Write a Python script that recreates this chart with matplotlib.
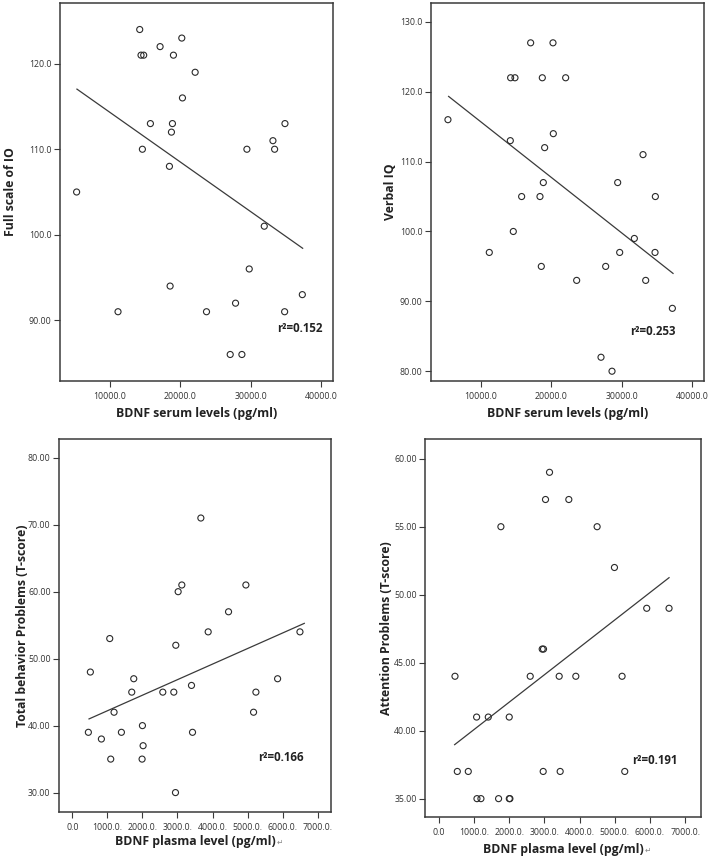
import matplotlib
matplotlib.use("Agg")
import matplotlib.pyplot as plt

plt.rcParams['font.family'] = ['Open Sans', 'DejaVu Sans']

# ---------------- Data ----------------
# Panel A: Full scale IQ vs BDNF serum
serum_a = [5308, 11185, 14265, 14450, 14830, 17156, 20237, 19052, 22133, 20332,
           15782, 18910, 18768, 14645, 18483, 18578, 23744, 27109, 28768, 27867,
           29810, 29479, 31943, 33175, 33412, 34882, 34834, 37346]
fsiq = [105, 91, 124, 121, 121, 122, 123, 121, 119, 116,
        113, 113, 112, 110, 108, 94, 91, 86, 86, 92,
        96, 110, 101, 111, 110, 113, 91, 93]
fit_a_x = [5355, 37393]
fit_a_y = [117.03, 98.42]

# Panel B: Verbal IQ vs BDNF serum
serum_b = [5308, 11185, 14218, 14834, 14171, 14597, 15782, 17062, 20237, 18720,
           22038, 20284, 19052, 18863, 18389, 18578, 23602, 27062, 28626, 27725,
           29431, 29716, 31801, 33033, 33412, 34787, 34739, 37204]
viq = [116, 97, 122, 122, 113, 100, 105, 127, 127, 122,
       122, 114, 112, 107, 105, 95, 93, 82, 80, 95,
       107, 97, 99, 111, 93, 105, 97, 89]
fit_b_x = [5403, 37299]
fit_b_y = [119.33, 94.0]

# Panel C: Total behavior problems vs BDNF plasma
plasma_c = [457, 514, 829, 1067, 1095, 1190, 1400, 1695, 1752, 2000,
            2019, 1990, 2581, 2895, 2952, 3019, 3124, 2943, 3400, 3429,
            3667, 3876, 4457, 4952, 5171, 5238, 5857, 6495]
tbp = [39, 48, 38, 53, 35, 42, 39, 45, 47, 40,
       37, 35, 45, 45, 52, 60, 61, 30, 46, 39,
       71, 54, 57, 61, 42, 45, 47, 54]
fit_c_x = [476, 6619]
fit_c_y = [41.0, 55.27]

# Panel D: Attention problems vs BDNF plasma
plasma_d = [455, 521, 833, 1080, 1193, 1070, 1402, 1695, 1761, 1998,
            2000, 2017, 2595, 2936, 2973, 2964, 3030, 3144, 3419, 3447,
            3693, 3892, 4498, 4991, 5208, 5284, 5909, 6544]
attn = [44, 37, 37, 35, 35, 41, 41, 35, 55, 41,
        35, 35, 44, 46, 46, 37, 57, 59, 44, 37,
        57, 44, 55, 52, 44, 37, 49, 49]
fit_d_x = [445, 6544]
fit_d_y = [38.97, 51.25]

serum_ticks = [10000, 20000, 30000, 40000]
serum_ticklabels = ["10000.0", "20000.0", "30000.0", "40000.0"]
plasma_ticks = [0, 1000, 2000, 3000, 4000, 5000, 6000, 7000]
plasma_ticklabels = ["0.0", "1000.0.", "2000.0.", "3000.0.", "4000.0.",
                     "5000.0.", "6000.0.", "7000.0."]
fsiq_ticks = [90, 100, 110, 120]
fsiq_ticklabels = ["90.00", "100.0", "110.0", "120.0"]
viq_ticks = [80, 90, 100, 110, 120, 130]
viq_ticklabels = ["80.00", "90.00", "100.0", "110.0", "120.0", "130.0"]
tbp_ticks = [30, 40, 50, 60, 70, 80]
tbp_ticklabels = ["30.00", "40.00", "50.00", "60.00", "70.00", "80.00"]
attn_ticks = [35, 40, 45, 50, 55, 60]
attn_ticklabels = ["35.00", "40.00", "45.00", "50.00", "55.00", "60.00"]

# ---------------- Figure ----------------
W, H = 711, 858
fig = plt.figure(figsize=(W / 100, H / 100), dpi=100)
fig.patch.set_facecolor("white")


def make_axes(left, right, top, bottom):
    return fig.add_axes([left / W, 1 - bottom / H, (right - left) / W, (bottom - top) / H])


panels = [
    dict(box=(60, 333, 3, 381), x=serum_a, y=fsiq, fx=fit_a_x, fy=fit_a_y,
         xlim=(2950, 41700), ylim=(82.9, 127.1),
         xt=serum_ticks, xtl=serum_ticklabels, yt=fsiq_ticks, ytl=fsiq_ticklabels,
         xlabel="BDNF serum levels (pg/ml)", ylabel="Full scale of IO",
         r2="r²=0.152", r2pos=(33839, 89.0), ylc=-0.183, xlc=-0.085),
    dict(box=(431, 704, 3, 381), x=serum_b, y=viq, fx=fit_b_x, fy=fit_b_y,
         xlim=(2900, 41700), ylim=(78.6, 132.7),
         xt=serum_ticks, xtl=serum_ticklabels, yt=viq_ticks, ytl=viq_ticklabels,
         xlabel="BDNF serum levels (pg/ml)", ylabel="Verbal IQ",
         r2="r²=0.253", r2pos=(31185, 85.7), ylc=-0.15, xlc=-0.085),
    dict(box=(59, 331, 439, 812), x=plasma_c, y=tbp, fx=fit_c_x, fy=fit_c_y,
         xlim=(-381, 7381), ylim=(27.1, 82.8),
         xt=plasma_ticks, xtl=plasma_ticklabels, yt=tbp_ticks, ytl=tbp_ticklabels,
         xlabel="BDNF plasma level (pg/ml)", ylabel="Total behavior Problems (T-score)",
         r2="r²=0.166", r2pos=(5314, 35.3), ylc=-0.133, xlc=-0.08, arrow=True),
    dict(box=(425, 701, 439, 817), x=plasma_d, y=attn, fx=fit_d_x, fy=fit_d_y,
         xlim=(-398, 7453), ylim=(33.65, 61.45),
         xt=plasma_ticks, xtl=plasma_ticklabels, yt=attn_ticks, ytl=attn_ticklabels,
         xlabel="BDNF plasma level (pg/ml)", ylabel="Attention Problems (T-score)",
         r2="r²=0.191", r2pos=(5483, 37.8), ylc=-0.138, xlc=-0.085, arrow=True),
]

edge = "#3a3a3a"
for p in panels:
    ax = make_axes(*p["box"])
    ax.scatter(p["x"], p["y"], s=19, marker="o", facecolors="none",
               edgecolors="#2a2a2a", linewidths=0.8, zorder=3)
    ax.plot(p["fx"], p["fy"], color="#3a3a3a", lw=0.9, zorder=2)
    ax.set_xlim(*p["xlim"])
    ax.set_ylim(*p["ylim"])
    ax.set_xticks(p["xt"])
    ax.set_xticklabels(p["xtl"])
    ax.set_yticks(p["yt"])
    ax.set_yticklabels(p["ytl"])
    ax.tick_params(axis="both", direction="out", length=4, width=0.8,
                   labelsize=6.3, colors=edge, labelcolor="#333333", pad=2)
    ax.tick_params(axis="x", pad=4)
    for s in ax.spines.values():
        s.set_color(edge)
        s.set_linewidth(1.1)
    ax.set_xlabel(p["xlabel"], fontsize=8.8, fontweight="bold", color="#222222", va="center")
    ax.xaxis.set_label_coords(0.5, p["xlc"])
    ax.set_ylabel(p["ylabel"], fontsize=8.8, fontweight="bold", color="#222222", va="center")
    ax.yaxis.set_label_coords(p["ylc"], 0.5)
    ax.text(p["r2pos"][0], p["r2pos"][1], p["r2"], fontsize=8.3, fontweight="bold",
            color="#222222", ha="left", va="center")
    if p.get("arrow"):
        ax.annotate("↵", xy=(1.0, 0.45), xycoords=ax.xaxis.label,
                    xytext=(1, 0), textcoords="offset points",
                    fontsize=5.5, color="#888888", ha="left", va="center",
                    family="DejaVu Sans")

fig.savefig("out.png", dpi=100, facecolor="white")
